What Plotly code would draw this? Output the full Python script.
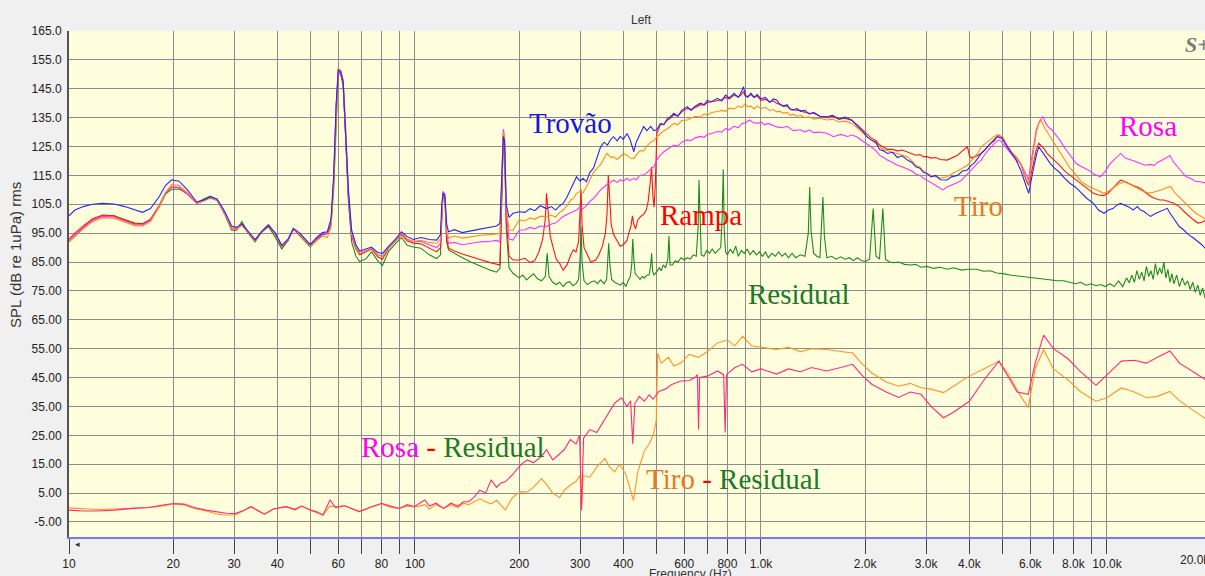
import plotly.graph_objects as go

# (frequency Hz, level dB)
trovao = [
    (10, 101.0), (10.4, 103.0), (11, 104.2), (11.7, 105.0), (12.5, 105.3), (13.5, 105.1), (14.5, 104.2),
    (15.5, 103.0), (16.3, 102.2), (17.2, 103.5), (18.2, 107.5), (19, 111.5), (19.8, 113.5), (20.8, 113.0),
    (22, 110.0), (23.4, 105.8), (24.5, 106.5), (25.6, 107.6), (26.8, 106.8), (28.2, 102.5), (29.5, 97.5),
    (30.5, 97.0), (31.6, 98.3), (33, 95.5), (34.5, 92.8), (36, 95.5), (37.7, 97.8), (39.5, 95.0),
    (41.2, 90.8), (43, 93.0), (44.5, 96.7), (46.5, 95.0), (49.8, 91.0), (52, 93.5), (54, 95.2), (55.8, 95.5),
    (57.2, 100), (58.2, 115), (59.2, 140), (60, 151.5), (61, 151), (62, 147.5), (63, 132), (64.2, 110),
    (65.6, 96), (67.5, 91), (69.2, 88.8), (72, 89.5), (74.9, 90.2), (78, 88.3), (80.5, 88), (84, 90.5),
    (88, 93), (91.4, 95.5), (95, 93.8), (98.9, 92.8), (104, 93.5), (110, 92.8), (115.5, 92.6), (118.5, 94.5),
    (119.5, 105), (120.5, 109), (122, 108), (123.5, 98), (125, 95.5), (130, 96.2), (137, 95.2), (145, 95.8),
    (155, 96.5), (165, 97.0), (172, 97.5), (176, 98.4), (178.5, 115), (180, 128.5), (181.5, 127), (183.5, 105),
    (187, 100.5), (192, 101.9), (200, 102.4), (208, 102.2), (215, 103.5), (222, 102.8), (230, 104.5),
    (240, 103.5), (248, 104.2), (255, 103.0), (262, 104.5), (268, 105.3), (275, 107.5), (282, 110.5),
    (288, 112.5), (293, 114.5), (300, 113), (306, 114), (313, 112.8), (320, 116), (328, 117.5), (336, 121),
    (344, 124.9), (352, 126.5), (360, 125.5), (368, 127.5), (375, 128.4), (384, 127), (392, 128.5),
    (400, 127.5), (410, 129.5), (418, 127.5), (424, 125), (429, 123.2), (436, 126.5), (446, 129),
    (458, 131.9), (468, 130.5), (480, 132), (490, 130.5), (500, 130.8), (512, 133), (524, 132.5),
    (535, 134.5), (547, 135.3), (560, 136.5), (575, 135.5), (590, 137.5), (612, 138.8), (628, 137.5),
    (645, 139), (668, 140), (685, 139.5), (700, 141), (720, 140.5), (748, 141.7), (770, 140.8), (790, 142.8),
    (810, 141.8), (836, 143.4), (860, 142), (878, 144), (890, 145.7), (900, 143), (915, 142), (935, 143.5),
    (955, 142), (975, 143), (1000, 141.5), (1030, 142), (1060, 140.3), (1085, 141.5), (1110, 141.1),
    (1135, 139.5), (1160, 139), (1190, 139.5), (1215, 137.8), (1240, 137.6), (1270, 138.2), (1300, 137.2),
    (1340, 137.5), (1380, 136.2), (1420, 136.8), (1480, 135.5), (1550, 135.3), (1610, 135.8), (1680, 134.5),
    (1750, 135.2), (1830, 134.2), (1900, 132), (1960, 130.5), (2020, 128.5), (2080, 127.3), (2150, 126.5),
    (2200, 124), (2260, 123.5), (2320, 122.6), (2400, 123), (2480, 121.2), (2560, 121.8), (2650, 120.3),
    (2730, 119.5), (2800, 118), (2880, 117.5), (2950, 116), (3020, 115.7), (3100, 114.5), (3200, 115),
    (3300, 113.5), (3450, 113.4), (3550, 114.5), (3700, 115), (3820, 116.5), (3950, 116.9), (4050, 118.5),
    (4150, 119.5), (4250, 121.5), (4330, 122.6), (4450, 124), (4600, 126), (4720, 127), (4820, 128.4),
    (4920, 128), (5000, 127.5), (5080, 126), (5150, 124.9), (5300, 122.5), (5450, 120.5), (5630, 116.9),
    (5750, 114), (5850, 111), (5940, 108.8), (6000, 112), (6100, 116), (6250, 122), (6350, 124.9),
    (6470, 123.5), (6600, 122), (6720, 120.5), (6860, 119.1), (7050, 117.5), (7300, 116), (7550, 114),
    (7830, 112.2), (8100, 111), (8400, 109), (8750, 107), (9140, 105.3), (9450, 103), (9800, 101.9),
    (10100, 103), (10400, 103.5), (10700, 104.8), (10950, 105.3), (11300, 104.5), (11600, 104), (11900, 103),
    (12240, 104.2), (12500, 103), (12800, 102.5), (13100, 101.5), (13370, 100.8), (13800, 101.8),
    (14200, 102.5), (14600, 103.2), (14940, 103.6), (15200, 102), (15500, 100.5), (15800, 99), (16180, 97.3),
    (16700, 96), (17200, 94.5), (17700, 93.5), (18300, 92), (18800, 91), (19400, 89.2),
]

rampa = [
    (10, 93.0), (10.4, 95.0), (11, 97.5), (11.7, 100), (12.5, 101.3), (13.5, 101), (14.5, 99.5), (15.5, 98.3),
    (16.3, 98.2), (17.2, 99.8), (18.2, 104.5), (19, 109), (19.8, 111), (20.8, 110.8), (22, 108.5),
    (23.4, 105.3), (24.5, 106.2), (25.6, 107.3), (26.8, 106.3), (28.2, 101.8), (29.5, 96.5), (30.5, 96.5),
    (31.6, 97.8), (33, 95), (34.5, 92.3), (36, 95.3), (37.7, 97.8), (39.5, 94.3), (41.2, 90.3), (43, 92.6),
    (44.5, 96.3), (46.5, 94.3), (49.8, 90.8), (52, 93), (54, 94.5), (55.8, 95), (57.2, 99), (58.2, 113),
    (59.2, 139), (60, 151), (61, 150.5), (62, 147), (63, 131), (64.2, 108), (65.6, 94), (67.5, 89.5),
    (69.2, 87.5), (72, 88.5), (74.9, 89.5), (78, 86.8), (80.5, 86), (84, 89.8), (88, 92.3), (91.4, 94.5),
    (95, 92.3), (98.9, 91.5), (104, 91.3), (110, 89.8), (115.5, 88.5), (118.5, 90), (119.5, 103),
    (120.5, 108.5), (122, 107.5), (123.5, 93), (125, 89.8), (130, 88.8), (137, 87.8), (145, 86.8),
    (155, 85.8), (165, 84.8), (172, 84.2), (176, 84), (178.5, 112), (180, 129), (181.5, 126), (183.5, 100),
    (187, 87), (192, 85.7), (200, 85.7), (208, 86.3), (215, 84.8), (222, 85.5), (228, 88.5), (234, 93),
    (238, 100), (240, 108.8), (242, 104), (246, 94), (251, 89.8), (256, 86), (262, 84.5), (268, 82.2),
    (275, 84), (282, 87.5), (287, 89.2), (292, 88.5), (297, 92), (300, 106), (302, 110), (304, 98), (308, 90),
    (315, 87.5), (322, 85), (333, 85.7), (340, 87.5), (348, 90.5), (355, 95), (359, 102), (362, 115.1),
    (365, 108), (369, 98), (375, 94.5), (384, 92.6), (392, 90.5), (400, 91), (410, 92.5), (416, 95.5),
    (421, 97.5), (425, 101), (429, 98), (434, 96.5), (440, 99.5), (449, 100.8), (458, 101.5), (466, 103),
    (472, 106), (478, 112), (483, 118), (487, 108), (491, 104), (495, 112), (498, 122), (500, 129.5),
    (512, 132.5), (524, 132.8), (535, 134), (547, 134.8), (560, 136), (575, 135.5), (590, 137), (612, 138.2),
    (628, 137.8), (645, 138.5), (668, 139.5), (685, 139.3), (700, 140.2), (720, 140.5), (748, 141),
    (770, 141.2), (790, 142), (810, 141.5), (836, 142.8), (860, 142.2), (878, 143), (890, 144), (900, 142.5),
    (915, 142.3), (935, 143), (955, 142), (975, 142.5), (1000, 141), (1030, 141.3), (1060, 140.5),
    (1085, 140.8), (1110, 140), (1135, 139.6), (1160, 139), (1190, 139), (1215, 138), (1240, 137.8),
    (1270, 137.5), (1300, 137.5), (1340, 136.8), (1380, 136.5), (1420, 136.5), (1480, 135.5), (1550, 135),
    (1610, 135.5), (1680, 134.5), (1750, 134.8), (1830, 134), (1900, 132.5), (1960, 131), (2020, 129.5),
    (2080, 128), (2150, 127), (2200, 125.5), (2260, 124.8), (2320, 124), (2400, 124), (2480, 123.5),
    (2560, 123.8), (2650, 123.2), (2730, 122.5), (2800, 122), (2880, 122.2), (2950, 121.5), (3020, 121.5),
    (3100, 121), (3200, 121.2), (3300, 120.5), (3450, 120.3), (3550, 121), (3700, 122), (3820, 123.5),
    (3950, 124.9), (4000, 122), (4050, 121), (4150, 121.5), (4250, 122), (4330, 122.6), (4450, 124),
    (4600, 126), (4720, 127.5), (4870, 129), (4950, 128.5), (5000, 128), (5080, 126.5), (5150, 125),
    (5300, 123), (5450, 121.5), (5630, 119), (5750, 116), (5850, 113), (5940, 111.6), (6000, 114),
    (6100, 118), (6250, 124), (6350, 126.1), (6470, 125), (6600, 124), (6720, 122.5), (6860, 121.5),
    (7050, 120), (7300, 118.5), (7550, 116.5), (7830, 115), (8100, 113.5), (8400, 112), (8750, 110.5),
    (9140, 108.8), (9450, 108.2), (9800, 108), (10100, 109), (10400, 110.5), (10700, 112), (10950, 113.4),
    (11300, 112.8), (11600, 112), (11900, 111.5), (12240, 111), (12500, 110.5), (12800, 109.5),
    (13100, 108.5), (13370, 107.7), (13800, 107), (14200, 106.5), (14600, 106.5), (14940, 106),
    (15200, 105.8), (15500, 105.5), (15800, 105), (16180, 104.2), (16700, 102.5), (17200, 101),
    (17700, 99.8), (18300, 98.5), (18800, 98.8), (19400, 99.6),
]

tiro = [
    (10, 92.0), (10.4, 94.0), (11, 96.5), (11.7, 99), (12.5, 100.3), (13.5, 100.2), (14.5, 98.8), (15.5, 97.6),
    (16.3, 97.5), (17.2, 99), (18.2, 104), (19, 109), (19.8, 111.9), (20.8, 111.5), (22, 109), (23.4, 105.5),
    (24.5, 106.3), (25.6, 107.4), (26.8, 106.5), (28.2, 102), (29.5, 96.5), (30.5, 96.5), (31.6, 98),
    (33, 95.2), (34.5, 92.5), (36, 95.5), (37.7, 98), (39.5, 94.5), (41.2, 90.5), (43, 92.8), (44.5, 96.5),
    (46.5, 94.5), (49.8, 90.5), (52, 92.5), (54, 94), (55.8, 93.5), (57.2, 97), (58.2, 112), (59.2, 138),
    (60, 152), (61, 151.5), (62, 148), (63, 133), (64.2, 110), (65.6, 95), (67.5, 90), (69.2, 88), (72, 89),
    (74.9, 89.8), (78, 87.5), (80.5, 87), (84, 90), (88, 92.5), (91.4, 95), (95, 93), (98.9, 92.2),
    (104, 92.5), (110, 91.8), (115.5, 91.5), (118.5, 93), (119.5, 104), (120.5, 109), (122, 108.5),
    (123.5, 96), (125, 93.2), (130, 94), (137, 93.3), (145, 93.8), (155, 94.3), (165, 94.5), (172, 94.8),
    (176, 94.9), (178.5, 115), (180, 130), (181.5, 128), (183.5, 104), (187, 96), (192, 96), (200, 99.6),
    (208, 99.2), (215, 100.3), (222, 99.8), (230, 100.8), (240, 100.8), (248, 101.2), (255, 100.6),
    (262, 102.2), (268, 103), (275, 104.5), (282, 106.5), (288, 107.2), (293, 108.8), (300, 109.5),
    (306, 109), (313, 111), (320, 113.5), (327, 115.7), (336, 117.5), (345, 119), (352, 121), (359, 122.6),
    (368, 121.2), (375, 121.5), (384, 120.5), (392, 121.4), (400, 122.5), (410, 122), (418, 121),
    (429, 120.9), (436, 122), (446, 123.5), (458, 123.5), (466, 124.9), (480, 126.5), (490, 127),
    (500, 128.4), (512, 129.5), (524, 130.5), (535, 131), (547, 131.9), (560, 133), (575, 132.5), (590, 134),
    (612, 134.2), (628, 134.8), (645, 135.5), (668, 135.2), (685, 136.3), (700, 135.8), (720, 136.8),
    (748, 137.1), (770, 137.5), (790, 137.2), (810, 138.3), (836, 138), (860, 139), (878, 138.5),
    (890, 139.4), (900, 139.8), (915, 138.8), (935, 139), (955, 138), (975, 139), (1000, 138.2),
    (1030, 138.5), (1060, 137.5), (1085, 137.8), (1110, 137), (1135, 137.2), (1160, 136.5), (1190, 136.8),
    (1215, 135.8), (1240, 136.2), (1270, 135.5), (1300, 135.8), (1340, 135), (1380, 135.3), (1420, 134.5),
    (1480, 134.8), (1550, 134.2), (1610, 134.5), (1680, 133.5), (1750, 133.8), (1830, 133), (1900, 131.5),
    (1960, 130), (2020, 128.5), (2080, 127.2), (2150, 126), (2200, 125), (2260, 124), (2320, 123.5),
    (2400, 123), (2480, 122.5), (2560, 122), (2650, 121.5), (2730, 120), (2800, 118.5), (2880, 117.8),
    (2950, 116.5), (3020, 115.7), (3100, 115), (3200, 114.5), (3300, 114), (3450, 114.5), (3550, 115.5),
    (3700, 116.5), (3820, 117.4), (3950, 118.5), (4050, 120), (4150, 121.5), (4250, 123), (4330, 124.9),
    (4450, 126), (4600, 127.5), (4720, 128.5), (4820, 129), (4920, 128.5), (5000, 127.5), (5080, 126.5),
    (5150, 125.5), (5300, 123), (5450, 121), (5630, 119.1), (5750, 116), (5850, 113.5), (5940, 112.2),
    (6000, 116), (6100, 122), (6250, 130), (6350, 133), (6440, 134.2), (6600, 131.5), (6720, 130),
    (6860, 128.4), (7050, 126), (7300, 123), (7550, 120), (7830, 117.4), (8100, 115.5), (8400, 113),
    (8750, 111.5), (9140, 110.5), (9450, 109.5), (9800, 108.8), (10100, 109.5), (10400, 110.5),
    (10700, 111.8), (11200, 112.8), (11600, 112), (12000, 111), (12400, 110.2), (12700, 109.5),
    (13100, 109), (13500, 109), (13900, 109.5), (14400, 110), (14900, 110.8), (15300, 111.1), (15700, 109),
    (16180, 107.5), (16500, 106.5), (16900, 105.3), (17500, 103.5), (18000, 102), (18600, 101), (19400, 99.6),
]

rosa = [
    (10, 92.5), (10.4, 94.5), (11, 97), (11.7, 99.5), (12.5, 100.8), (13.5, 100.6), (14.5, 99.2), (15.5, 98),
    (16.3, 97.8), (17.2, 99.4), (18.2, 104.2), (19, 108.8), (19.8, 111), (20.8, 110.8), (22, 108.5),
    (23.4, 105.3), (24.5, 106.3), (25.6, 107.3), (26.8, 106.4), (28.2, 101.8), (29.5, 96.8), (30.5, 96.8),
    (31.6, 98), (33, 95.2), (34.5, 92.5), (36, 95.5), (37.7, 98), (39.5, 94.5), (41.2, 90.5), (43, 92.8),
    (44.5, 96.5), (46.5, 94.5), (49.8, 91), (52, 93.2), (54, 94.8), (55.8, 95), (57.2, 99), (58.2, 113),
    (59.2, 139), (60, 151), (61, 150.5), (62, 147), (63, 131), (64.2, 108), (65.6, 94.5), (67.5, 90),
    (69.2, 88), (72, 89), (74.9, 89.8), (78, 87.5), (80.5, 87), (84, 90.2), (88, 92.6), (91.4, 95), (95, 92.8),
    (98.9, 92), (104, 92.2), (110, 91), (115.5, 90), (118.5, 91.5), (119.5, 104), (120.5, 109.5),
    (122, 108.5), (123.5, 95), (125, 91.5), (130, 91.8), (137, 91), (145, 91.5), (155, 92), (165, 92.2),
    (172, 92.5), (176, 92), (178.5, 114), (180, 131), (181.5, 128), (183.5, 102), (187, 93), (192, 92.6),
    (200, 96), (208, 96.2), (215, 97), (222, 96.5), (230, 97.5), (240, 97.3), (248, 98.2), (255, 98.5),
    (262, 99.8), (268, 100.8), (275, 101.5), (282, 102), (288, 102.5), (293, 103), (300, 104.2), (306, 103.5),
    (313, 104.5), (320, 106), (328, 107), (336, 108.5), (344, 110), (352, 111), (360, 112), (368, 112.5),
    (375, 113.4), (384, 112.5), (392, 113.5), (400, 113), (410, 114), (418, 113.2), (429, 114), (436, 113.5),
    (446, 115), (458, 115.2), (466, 115.7), (478, 117), (490, 118), (500, 120.3), (512, 122), (524, 123.2),
    (535, 124), (547, 124.9), (560, 125.5), (575, 125.2), (590, 126.5), (612, 127.3), (628, 127), (645, 128),
    (668, 128.5), (685, 128.2), (700, 129.2), (720, 129.5), (748, 130.2), (770, 130), (790, 131.2),
    (810, 130.8), (836, 132), (860, 131.5), (878, 132.8), (900, 133.2), (928, 134.2), (950, 133.2),
    (980, 133), (1000, 133.5), (1025, 132.5), (1050, 133), (1085, 132.3), (1110, 131.8), (1150, 131.5),
    (1190, 132), (1240, 130.5), (1300, 130.8), (1340, 130), (1380, 130.8), (1420, 129.8), (1480, 130),
    (1550, 129.6), (1620, 128.4), (1700, 129.2), (1780, 128.5), (1830, 129), (1890, 128.4), (1960, 127),
    (2020, 126), (2080, 124.9), (2150, 123.5), (2200, 122), (2260, 121.2), (2320, 120.3), (2400, 119.5),
    (2480, 118.5), (2560, 118), (2650, 117.2), (2730, 116.5), (2800, 115.5), (2880, 115), (2950, 114),
    (3020, 113.4), (3100, 112.5), (3200, 111.5), (3350, 110), (3450, 111), (3550, 111.5), (3700, 112.5),
    (3800, 113.4), (3950, 115.5), (4050, 117), (4150, 118.5), (4250, 119.5), (4330, 120.3), (4450, 122.5),
    (4600, 124.5), (4720, 126), (4870, 127.3), (4950, 126.8), (5000, 126), (5080, 125), (5150, 124),
    (5300, 122), (5450, 120.5), (5630, 119.1), (5750, 117), (5850, 115), (5940, 113.4), (6000, 118),
    (6100, 124), (6250, 131), (6400, 134), (6530, 135.3), (6650, 133), (6800, 131.5), (6900, 131),
    (7100, 129), (7300, 127.3), (7550, 124.5), (7830, 122), (8150, 119.1), (8450, 118), (8800, 117),
    (9150, 115.5), (9560, 114.5), (9900, 116.5), (10200, 119), (10600, 121), (10950, 122.6), (11300, 121),
    (11700, 120.5), (12100, 119.8), (12500, 119.1), (12900, 118.5), (13300, 118.8), (13700, 118.5),
    (14000, 119.5), (14300, 120), (14800, 121), (15200, 121.9), (15600, 119.5), (16000, 118), (16500, 116),
    (16920, 114.5), (17400, 114), (18000, 113), (18600, 112.8), (19400, 112.3),
]

residual = [
    (10, 92.0), (10.4, 94), (11, 96.8), (11.7, 99.5), (12.5, 101), (13.5, 101), (14.5, 99.8), (15.5, 98.5),
    (16.3, 98.3), (17.2, 99.6), (18.2, 104), (19, 108.5), (19.8, 110.2), (20.8, 110.3), (22, 108.6),
    (23.4, 105.5), (24.5, 106.8), (25.6, 107.8), (26.8, 106.8), (28.2, 101.5), (29.5, 96), (30.5, 96),
    (31.6, 99), (33, 95), (34.5, 92), (36, 95.3), (37.7, 97.3), (39.5, 93.5), (41.2, 89.5), (43, 92.5),
    (44.5, 96.5), (46.5, 94), (49.8, 90.2), (52, 92.5), (54, 94.5), (55.8, 94.8), (57.2, 98), (58.2, 110),
    (59.2, 136), (60, 150.5), (61, 150), (62, 146), (63, 129), (64.2, 106), (65.6, 92), (67.5, 87),
    (69.2, 85.2), (72, 86), (74.9, 88.5), (78, 85.5), (80.5, 83.8), (84, 88.8), (88, 91.5), (91.4, 93.5),
    (95, 90.8), (98.9, 90.2), (104, 89.8), (110, 87.5), (115.5, 86.2), (118.5, 87.5), (119.5, 102),
    (120.5, 108), (122, 107), (123.5, 92), (125, 89.2), (130, 88), (137, 86.5), (145, 85), (155, 83.5),
    (165, 82.2), (172, 81.5), (176, 82.8), (178.5, 110), (180, 128), (181.5, 125), (183.5, 97), (187, 83),
    (192, 81.1), (200, 79.5), (205, 80.5), (210, 78.8), (215, 80), (220, 80.9), (226, 79.2), (232, 78.5),
    (238, 80), (241, 88), (244, 80), (250, 78), (256, 77.2), (262, 78), (268, 76.5), (274, 77.8), (280, 78.2),
    (286, 76.8), (292, 77.5), (297, 79), (300, 86), (302, 97), (304, 85), (308, 78.5), (315, 77.2), (322, 78),
    (330, 78.5), (337, 77.5), (344, 78.8), (352, 77.5), (358, 79), (361, 86), (363, 91.5), (366, 84),
    (370, 79), (378, 78), (385, 77.5), (392, 77), (400, 78), (407, 76.5), (413, 78.5), (419, 80), (423, 84),
    (426, 93), (429, 86), (433, 81), (440, 80), (447, 79), (454, 80), (460, 79.5), (468, 80.5), (475, 80.5),
    (480, 84), (483, 88), (486, 82), (490, 80.5), (500, 81.7), (508, 83), (515, 82), (522, 84), (530, 83),
    (538, 86), (542, 94), (546, 84), (555, 84), (565, 85.5), (575, 85), (588, 86.5), (600, 85.7),
    (612, 86.5), (625, 86), (637, 87.5), (650, 87), (658, 97), (662, 113.4), (666, 99), (672, 87.5),
    (684, 87), (697, 89), (710, 88), (723, 89.5), (737, 88), (752, 89), (765, 90), (772, 100), (778, 117),
    (783, 96), (790, 88.5), (800, 87.5), (815, 89.5), (830, 88), (845, 90.5), (860, 87), (878, 89),
    (895, 88), (912, 89.5), (930, 87.5), (950, 89), (970, 87.5), (990, 88.5), (1010, 87), (1030, 88.5),
    (1050, 86.5), (1075, 88), (1100, 87), (1125, 88.5), (1150, 87), (1175, 88), (1200, 86.5), (1230, 88),
    (1260, 86.5), (1300, 87.5), (1340, 87), (1370, 95), (1383, 111), (1395, 96), (1420, 88), (1450, 87),
    (1480, 86.5), (1495, 95), (1510, 107.5), (1525, 94), (1550, 86.5), (1600, 87), (1650, 86), (1700, 86.8),
    (1750, 86), (1800, 86.5), (1850, 85.5), (1900, 86.5), (1950, 85.5), (2000, 85.2), (2060, 86),
    (2110, 103.5), (2150, 87), (2200, 86), (2250, 103.5), (2290, 86), (2350, 85), (2420, 84.8), (2500, 85),
    (2600, 84.2), (2700, 84), (2800, 84.2), (2900, 83.2), (3020, 83.5), (3150, 82.8), (3300, 83.2),
    (3450, 82.5), (3600, 83), (3800, 82.2), (3970, 82.5), (4200, 82.5), (4400, 81.8), (4600, 82),
    (4800, 81.2), (5000, 81), (5250, 80.5), (5500, 80.2), (5750, 79.8), (6000, 79.5), (6300, 79.2),
    (6600, 79), (6900, 78.8), (7200, 78.5), (7500, 78.5), (7800, 78), (8100, 77.5), (8400, 78), (8700, 77),
    (9000, 77.5), (9300, 76.8), (9600, 77.2), (9870, 76.5), (10200, 77.5), (10500, 76.5), (10800, 78.5),
    (11100, 76.5), (11400, 79.5), (11600, 77.8), (11800, 80.5), (12000, 78), (12200, 82), (12400, 79),
    (12600, 81.5), (12800, 78.5), (13000, 83.5), (13200, 80), (13400, 82), (13600, 79), (13800, 84.5),
    (14000, 80.5), (14200, 83), (14400, 81), (14600, 85), (14800, 79.5), (15000, 82.5), (15200, 78),
    (15400, 81), (15600, 77.5), (15900, 80.5), (16200, 76.5), (16500, 79.5), (16800, 77), (17100, 78.5),
    (17400, 75.5), (17700, 78), (18000, 74.5), (18300, 77), (18600, 73.5), (18900, 76), (19200, 72.5),
    (19400, 74),
]

rosa_minus_residual = [
    (10, -0.9), (11, -1.2), (12, -1.2), (13.5, -0.9), (15.3, -0.3), (17, 0), (18.5, 0.8), (20, 1.4),
    (21.5, 1.2), (23, 0), (24.9, -0.9), (27, -1.5), (28.5, -2.0), (30.2, -2.1), (32, -1), (33.6, 0.3),
    (35, -1), (36.7, -2.3), (39, -0.5), (42.4, 0.3), (45, -0.8), (47, 0.5), (49.9, -0.9), (52, -1.5),
    (54.2, -2.6), (56.8, 2.6), (59, 0), (62.7, 0.6), (66, -0.5), (69, -1.4), (74, 0), (80, 1.5), (85, 0.5),
    (90.1, -0.3), (95, 1), (99.6, 0.3), (103, 1.5), (106.8, 2.6), (110, 0.5), (115, 1.5), (121, -0.3),
    (127, 1.5), (133, 0.5), (138, 2), (143, 2.0), (148, 3.5), (154, 6.0), (160, 5), (166, 9.6), (172, 7),
    (177, 8.5), (182.6, 9.0), (190, 11), (196, 13.0), (203, 15), (211, 16.5), (220, 15.5), (232, 17.7),
    (240, 20), (250, 16.5), (262, 18.8), (270, 20), (281, 23.5), (292, 22), (299, 25), (303, -0.9),
    (307, 24), (320, 27), (335, 26), (354, 30.5), (365, 33), (378, 36.2), (395, 38), (410, 35), (420, 37),
    (426, 22), (432, 36), (445, 38.5), (460, 36.8), (475, 39), (488, 37.5), (507, 40.3), (530, 41),
    (550, 42.5), (587, 43.8), (620, 44), (645, 45), (655, 46), (660, 27), (665, 45), (700, 45.5),
    (748, 47.3), (780, 46), (788, 26), (795, 46), (840, 48.5), (885, 49.6), (940, 47), (1000, 48),
    (1110, 46.2), (1200, 48), (1300, 47), (1400, 48.5), (1545, 47.3), (1700, 48.5), (1840, 49.6),
    (1950, 46), (2090, 42.7), (2300, 40), (2500, 38.1), (2700, 40), (2900, 39.2), (3100, 35), (3370, 31.1),
    (3600, 33), (4000, 36.8), (4400, 44), (4870, 50.7), (5200, 45), (5500, 40), (5920, 39.2), (6200, 50),
    (6560, 59.7), (7000, 55), (7700, 51.6), (8400, 47), (9300, 42.3), (10000, 46), (11000, 50.7),
    (12000, 51), (13000, 50), (14000, 52), (15200, 54.2), (16200, 50), (17300, 48), (18300, 46), (19400, 44),
]

tiro_minus_residual = [
    (10, -0.1), (11, -0.4), (12, -0.7), (13.5, -0.5), (15.3, -0.3), (17, 0), (18.5, 0.5), (20, 1.2),
    (21.5, 1.0), (23, -0.3), (24.9, -1.2), (27, -2.3), (28.5, -2.6), (30.2, -2.6), (32, -1), (33.6, 0.3),
    (35, -1), (36.7, -2.3), (39, -0.5), (42.4, 0.3), (45, -0.5), (47, 0.5), (49.9, -0.9), (52, -1.8),
    (54.2, -2.6), (56.8, 0.5), (59, 0.3), (62.7, 0.6), (66, -0.5), (69, -1.4), (74, 0), (80, 1.2), (85, 0),
    (90.1, -0.3), (95, 0.5), (99.6, 0.3), (103, 0.5), (106.8, 1), (110, -0.5), (115, 1), (121, -0.3),
    (127, 1), (133, 0), (138, 1.5), (143, 1.0), (148, 2), (154, 3.0), (160, 2), (166, 1.3), (172, 2.5),
    (177, 1), (182.6, -0.9), (190, 3), (196, 4.5), (203, 5.5), (211, 5.4), (220, 7), (232, 10), (240, 8),
    (250, 5), (262, 3.5), (270, 6), (281, 7.8), (292, 9), (300, 11.2), (303, 0), (306, 11), (320, 10.5),
    (335, 14), (354, 17), (365, 14), (378, 12.4), (390, 15), (405, 12), (415, 8), (428, 2.4), (440, 12),
    (460, 19.6), (475, 22), (488, 25), (498, 30), (503, 53.4), (515, 50), (540, 52), (560, 49), (587, 50),
    (620, 53), (660, 52), (700, 54), (748, 57), (800, 58), (840, 56), (885, 59.3), (940, 56), (1000, 55.5),
    (1110, 54.7), (1200, 55.5), (1300, 54), (1400, 55), (1545, 54.7), (1700, 54), (1840, 53.5), (1950, 50),
    (2090, 46.6), (2300, 43.5), (2500, 42), (2700, 43), (2900, 41.5), (3100, 41), (3370, 39.8), (3600, 42),
    (4000, 45.5), (4400, 48), (4870, 50.7), (5200, 46), (5600, 39), (5920, 34.6), (6200, 48), (6560, 54.7),
    (7000, 48), (7700, 44.3), (8400, 40), (9300, 36.8), (10000, 38), (11000, 41.4), (12000, 40),
    (13000, 38), (14000, 38.5), (15200, 40.2), (16200, 37), (17300, 34.6), (18300, 32.5), (19400, 30.5),
]

grid_freqs = [10, 20, 30, 40, 50, 60, 70, 80, 90, 100, 200, 300, 400, 500, 600, 700, 800, 900,
              1000, 2000, 3000, 4000, 5000, 6000, 7000, 8000, 9000, 10000]
grid_labels = ["10", "20", "30", "40", "", "60", "", "80", "", "100", "200", "300", "400", "", "600", "",
               "800", "", "1.0k", "2.0k", "3.0k", "4.0k", "", "6.0k", "", "8.0k", "", "10.0k"]
level_ticks = [165, 155, 145, 135, 125, 115, 105, 95, 85, 75, 65, 55, 45, 35, 25, 15, 5, -5]
level_labels = ["165.0", "155.0", "145.0", "135.0", "125.0", "115.0", "105.0", "95.00", "85.00",
                "75.00", "65.00", "55.00", "45.00", "35.00", "25.00", "15.00", "5.00", "-5.00"]

W, H = 1205, 576
L, R, T, B = 69, 1205, 31, 537


def px(x):
    return (x - L) / (R - L)


def py(y):
    return (B - y) / (B - T)


series = [
    (residual, "#1f8a1f"),
    (rampa, "#ff1414"),
    (rosa, "#ff30ff"),
    (tiro, "#ff8c1a"),
    (trovao, "#2626ff"),
    (tiro_minus_residual, "#ff9326"),
    (rosa_minus_residual, "#ff2a78"),
]

fig = go.Figure()
for data, color in series:
    f, db = zip(*data)
    fig.add_trace(go.Scatter(x=f, y=db, mode="lines", line=dict(color=color, width=1.1),
                             showlegend=False, hoverinfo="skip"))

tick_font = dict(family="Liberation Sans", size=12, color="#222")
fig.update_xaxes(
    type="log", range=[1, 4.2833], tickvals=grid_freqs, ticktext=grid_labels,
    showgrid=True, gridcolor="#8c8c8c", gridwidth=1.4,
    ticks="outside", ticklen=15, tickcolor="#444", tickwidth=1,
    showline=True, linecolor="#7878f4", linewidth=2, zeroline=False,
    tickfont=tick_font, ticklabeloverflow="allow",
)
fig.update_yaxes(
    range=[-10.2, 165], tickvals=level_ticks, ticktext=level_labels,
    showgrid=True, gridcolor="#8c8c8c", gridwidth=1.4,
    ticks="outside", ticklen=3, tickcolor="rgba(0,0,0,0)",
    showline=True, linecolor="#555", linewidth=2, zeroline=False,
    tickfont=tick_font,
)

shapes = [
    # white page margins
    dict(type="rect", x0=px(0), x1=px(W), y0=py(11), y1=py(0), fillcolor="white", line_width=0),
    dict(type="rect", x0=px(0), x1=px(7), y0=py(H), y1=py(0), fillcolor="white", line_width=0),
    # header bar borders
    dict(type="line", x0=px(7), x1=px(W), y0=py(11), y1=py(11), line=dict(color="#a8a8a8", width=1)),
    dict(type="line", x0=px(69), x1=px(W), y0=py(29.5), y1=py(29.5), line=dict(color="#c4c4c4", width=1)),
    # scrollbar
    dict(type="rect", x0=px(69), x1=px(W), y0=py(549), y1=py(538), fillcolor="#f8f8f8", line_width=0),
    dict(type="rect", x0=px(69.5), x1=px(86), y0=py(548.5), y1=py(538.5), fillcolor="#f4f4f4",
         line=dict(color="#999", width=1)),
    dict(type="rect", x0=px(86), x1=px(104), y0=py(548.5), y1=py(538.5), fillcolor="#f0f0f0",
         line=dict(color="#999", width=1)),
    # collapse button
    dict(type="rect", x0=px(8.5), x1=px(19.5), y0=py(24.5), y1=py(13.5), fillcolor="#fafafa",
         line=dict(color="#9a9a9a", width=1)),
    dict(type="line", x0=px(12), x1=px(16), y0=py(19.5), y1=py(19.5), line=dict(color="#333", width=1)),
]

serif = "Liberation Serif"
labels = [
    ("Trovão", 527, 123, "#1414e6"),
    ("Rampa", 658, 215, "#ff0000"),
    ("Tiro", 952, 206, "#e8772a"),
    ("Rosa", 1117, 126, "#ff00ff"),
    ("Residual", 746, 294, "#1c7a2a"),
    ("<span style='color:#ff00ff'>Rosa</span><span style='color:#ff0000'> - </span>"
     "<span style='color:#1c7a2a'>Residual</span>", 359, 447, "#1c7a2a"),
    ("<span style='color:#e8772a'>Tiro</span><span style='color:#ff0000'> - </span>"
     "<span style='color:#1c7a2a'>Residual</span>", 644, 479, "#1c7a2a"),
]
annotations = [
    dict(text=t, x=px(x), y=py(y), xref="paper", yref="paper", xanchor="left", yanchor="middle",
         showarrow=False, font=dict(family=serif, size=29, color=c))
    for t, x, y, c in labels
]
sans = dict(family="Liberation Sans", size=12, color="#333")
annotations += [
    dict(text="Left", x=px(641), y=py(20), xanchor="center", yanchor="middle", font=sans),
    dict(text="SPL (dB re 1uPa) rms", x=px(15), y=py(255), xanchor="center", yanchor="middle",
         textangle=-90, font=dict(family="Liberation Sans", size=15, color="#333")),
    dict(text="Frequency (Hz)", x=px(690), y=py(574), xanchor="center", yanchor="middle", font=sans),
    dict(text="20.0k", x=px(1178), y=py(560), xanchor="left", yanchor="middle", font=tick_font),
    dict(text="<b><i>S+</i></b>", x=px(1183), y=py(45), xanchor="left", yanchor="middle",
         font=dict(family=serif, size=22, color="#7a7a7a")),
    dict(text="◂", x=px(77.5), y=py(543.5), xanchor="center", yanchor="middle",
         font=dict(family="DejaVu Sans", size=9, color="#333")),
]
for a in annotations[len(labels):]:
    a.update(xref="paper", yref="paper", showarrow=False)

fig.update_layout(
    width=W, height=H,
    margin=dict(l=L, r=W - R, t=T, b=H - B),
    paper_bgcolor="#f0f0f0", plot_bgcolor="#fffedc",
    shapes=shapes, annotations=annotations,
)

fig.write_html("out.html", config={"displayModeBar": False},
               post_script="document.body.style.margin='0';document.body.style.overflow='hidden';")
